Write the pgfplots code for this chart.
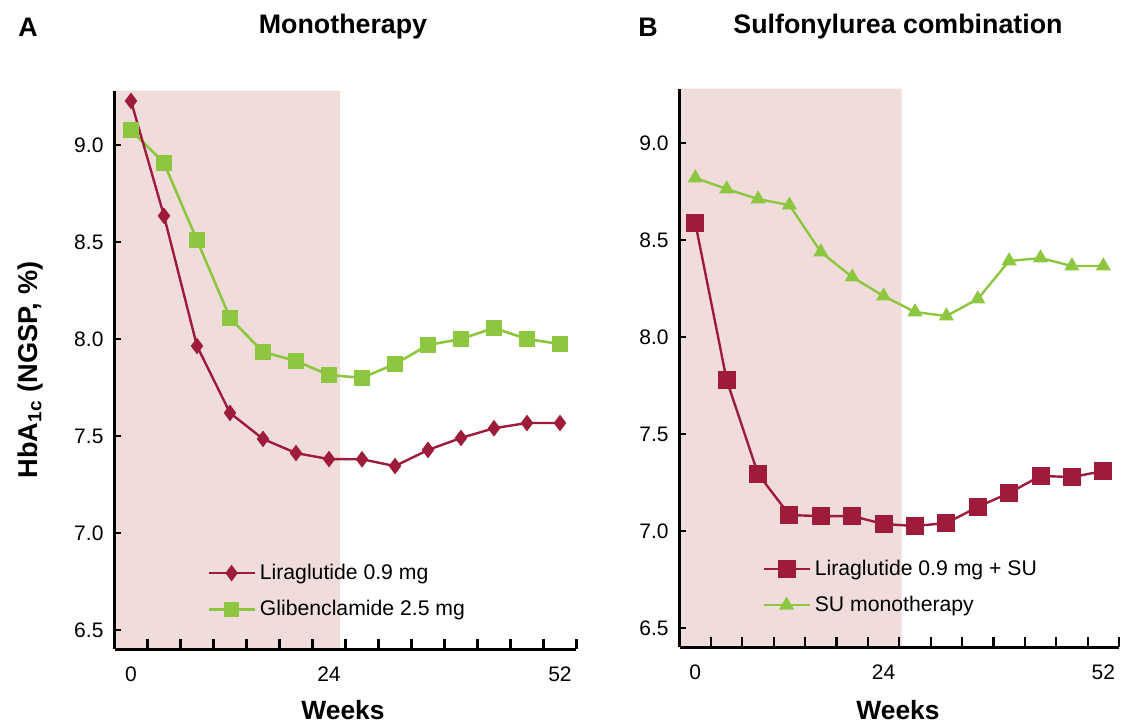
\documentclass[border=0pt]{standalone}
\usepackage{fontspec}
\setmainfont{Liberation Sans}
\usepackage{pgfplots}
\pgfplotsset{compat=1.18}
\definecolor{lira}{RGB}{158,27,58}
\definecolor{glib}{RGB}{141,198,63}
\definecolor{shade}{RGB}{240,221,219}

\pgfplotsset{
  panel/.style={
    scale only axis, height=279.35pt,
    axis on top,
    axis x line=bottom, axis y line=left,
    axis line style={line width=1.2pt, -},
    xmin=-2, xmax=54, ymin=6.4, ymax=9.28,
    xtick={2,6,...,54}, xticklabels={},
    extra x ticks={0,24,52}, extra x tick labels={0,24,52},
    extra x tick style={xtick style={draw=none, /pgfplots/major tick length=0pt}, xticklabel style={yshift=-5pt}},
    ytick={6.5,7,...,9},
    /pgf/number format/assume math mode=true,
    yticklabel style={/pgf/number format/fixed, /pgf/number format/fixed zerofill, /pgf/number format/precision=1, xshift=-2pt},
    tick align=inside,
    xtick style={line width=1.1pt, black, /pgfplots/major tick length=5pt},
    ytick style={line width=1.1pt, black, /pgfplots/major tick length=3.3pt},
    ticklabel style={font=\fontsize{10.5}{12}\selectfont},
    clip=false,
    legend style={draw=none, fill=none, font=\fontsize{10.6}{12}\selectfont, row sep=5pt, inner sep=0pt},
    legend cell align=left,
    legend image code/.code={\draw[mark repeat=2,mark phase=2,##1] plot coordinates {(0pt,0pt) (11.5pt,0pt) (23pt,0pt)};},
  }
}

\begin{document}
\begin{tikzpicture}
\useasboundingbox (0pt,0pt) rectangle (560.5pt,-361pt);

% Panel A
\begin{axis}[panel, width=231pt, at={(57.25pt,-324.7pt)}, anchor=south west,
  reverse legend,
  legend style={at={(0.2,0.104)}, anchor=west}]
\addplot[fill=shade, draw=none, forget plot] coordinates {(-2,6.4) (25.35,6.4) (25.35,9.28) (-2,9.28) (-2,6.4)};
\addplot[glib, line width=1.3pt, mark=square*, mark size=3.25pt, mark options={solid, fill=glib, draw=glib}]
  coordinates {(0,9.077) (4,8.907) (8,8.51) (12,8.108) (16,7.933) (20,7.887) (24,7.814) (28,7.80) (32,7.871) (36,7.969) (40,8.0) (44,8.057) (48,8.0) (52,7.974)};
\addlegendentry{Glibenclamide 2.5 mg}
\addplot[lira, line width=1.2pt, mark=diamond*, mark size=3.2pt, mark options={solid, fill=lira, draw=lira}]
  coordinates {(0,9.227) (4,8.635) (8,7.964) (12,7.619) (16,7.485) (20,7.412) (24,7.381) (28,7.38) (32,7.345) (36,7.428) (40,7.49) (44,7.54) (48,7.567) (52,7.567)};
\addlegendentry{Liraglutide 0.9 mg}
\end{axis}

% Panel B
\begin{axis}[panel, width=219.7pt, at={(339.8pt,-323.7pt)}, anchor=south west,
  legend style={at={(0.1875,0.108)}, anchor=west}]
\addplot[fill=shade, draw=none, forget plot] coordinates {(-2,6.4) (26.3,6.4) (26.3,9.28) (-2,9.28) (-2,6.4)};
\addplot[lira, line width=1.2pt, mark=square*, mark size=3.9pt, mark options={solid, fill=lira, draw=lira}]
  coordinates {(0,8.588) (4,7.778) (8,7.294) (12,7.082) (16,7.077) (20,7.077) (24,7.036) (28,7.026) (32,7.041) (36,7.124) (40,7.196) (44,7.284) (48,7.278) (52,7.309)};
\addlegendentry{Liraglutide 0.9 mg + SU}
\addplot[glib, line width=1.2pt, mark=triangle*, mark size=3.2pt, mark options={solid, fill=glib, draw=glib}]
  coordinates {(0,8.82) (4,8.763) (8,8.711) (12,8.68) (16,8.438) (20,8.309) (24,8.211) (28,8.129) (32,8.108) (36,8.196) (40,8.392) (44,8.407) (48,8.366) (52,8.366)};
\addlegendentry{SU monotherapy}
\end{axis}

% Texts
\node[font=\fontsize{13.4}{16}\bfseries\selectfont] at (14pt,-13.5pt) {A};
\node[font=\fontsize{13.4}{16}\bfseries\selectfont] at (171.5pt,-13.5pt) {Monotherapy};
\node[font=\fontsize{13.4}{16}\bfseries\selectfont] at (324pt,-13.5pt) {B};
\node[font=\fontsize{13.4}{16}\bfseries\selectfont] at (449pt,-13.5pt) {Sulfonylurea combination};
\node[font=\fontsize{13.2}{16}\bfseries\selectfont] at (171.5pt,-355pt) {Weeks};
\node[font=\fontsize{13.2}{16}\bfseries\selectfont] at (449pt,-355pt) {Weeks};
\node[rotate=90, font=\fontsize{13.6}{16}\bfseries\selectfont] at (15pt,-185pt) {HbA\textsubscript{1c} (NGSP, \%)};
\end{tikzpicture}
\end{document}
